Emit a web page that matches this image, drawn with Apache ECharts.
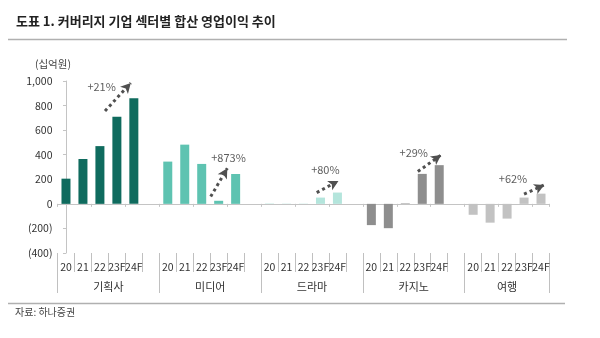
<!DOCTYPE html>
<html>
<head>
<meta charset="utf-8">
<script src="https://cdn.jsdelivr.net/npm/echarts@6/dist/echarts.min.js"></script>
<style>
html,body{margin:0;padding:0;background:#fff;}
#c{width:600px;height:338px;}
</style>
</head>
<body>
<div id="c"></div>
<script>
// ---- data ----
const groups = ['기획사', '미디어', '드라마', '카지노', '여행'];
const years = ['20', '21', '22', '23F', '24F'];
const kihoeksa = [205, 365, 470, 710, 860];
const media = [344, 482, 325, 25, 243];
const drama = [3, 2, 2, 51, 92];
const casino = [-173, -198, 4, 244, 315];
const travel = [-89, -153, -120, 51, 83];
const yTicks = [-400, -200, 0, 200, 400, 600, 800, 1000];
const growthLabels = ['+21%', '+873%', '+80%', '+29%', '+62%'];
// arrow start/end in [category slot, value] units, label anchor
const arrowFrom = [[2.3, 756], [8.53, 59], [14.78, 92], [20.74, 263], [27.0, 79]];
const arrowTo = [[3.82, 984], [9.51, 290], [16.06, 187], [22.11, 398], [28.19, 154]];
const labelAt = [[2.1, 954], [9.58, 376], [15.29, 276], [20.5, 412], [26.35, 201]];

const colors = ['#0f6b5e', '#5ec3b1', '#b4e5dc', '#8e8e8e', '#c2c2c2'];
const seriesVals = [kihoeksa, media, drama, casino, travel];

// ---- build category layout: 5 bars + 1 blank slot between groups ----
const yearCats = [];
const slotOfGroup = [];
groups.forEach((g, gi) => {
  slotOfGroup.push(yearCats.length);
  years.forEach(y => yearCats.push(y));
  if (gi < groups.length - 1) yearCats.push('');
});
const nSlots = yearCats.length; // 29
// group axis on half-slot boundaries
const nHalf = nSlots * 2 + 1;
const groupCats = new Array(nHalf).fill('');
const groupBounds = [];
groups.forEach((g, gi) => {
  const start = slotOfGroup[gi];
  const end = gi < groups.length - 1 ? slotOfGroup[gi + 1] : nSlots;
  groupBounds.push(start * 2);
  groupCats[start + end] = g;
});
groupBounds.push(nSlots * 2);

const series = groups.map((g, gi) => {
  const d = new Array(nSlots).fill(null);
  seriesVals[gi].forEach((v, k) => { d[slotOfGroup[gi] + k] = v; });
  return {
    name: g, type: 'bar', stack: 'all', data: d,
    xAxisIndex: 0, yAxisIndex: 0, barWidth: 9,
    itemStyle: { color: colors[gi] }, silent: true
  };
});

series.push({
  type: 'line', xAxisIndex: 3, yAxisIndex: 0, data: [], silent: true,
  markLine: {
    silent: true, symbol: ['none', 'arrow'], symbolSize: [8, 10],
    label: { show: false },
    lineStyle: { color: '#505050', width: 3, type: [3, 3.2], opacity: 1 },
    data: arrowFrom.map((p, i) => [{ coord: p }, { coord: arrowTo[i] }])
  }
});
series.push({
  type: 'scatter', xAxisIndex: 3, yAxisIndex: 0, symbolSize: 0, silent: true,
  data: labelAt.map((p, i) => ({ value: p, name: growthLabels[i] })),
  label: {
    show: true, position: 'inside', formatter: p => p.name,
    color: '#333', fontSize: 11, fontFamily: 'Noto Sans CJK KR'
  }
});

const FONT = 'Noto Sans CJK KR';
const fmt = v => {
  const s = Math.abs(v).toString().replace(/\B(?=(\d{3})+(?!\d))/g, ',');
  return v < 0 ? '(' + s + ')' : s;
};

const chart = echarts.init(document.getElementById('c'), null, { renderer: 'canvas' });
chart.setOption({
  animation: false,
  backgroundColor: '#fff',
  textStyle: { fontFamily: FONT },
  grid: { left: 57.5, right: 50.5, top: 81, bottom: 85, containLabel: false },
  graphic: [
    { type: 'text', left: 16, top: 15, style: { text: '도표 1. 커버리지 기업 섹터별 합산 영업이익 추이', font: 'bold 13px "Noto Sans CJK KR"', fill: '#222' } },
    { type: 'line', shape: { x1: 8, y1: 39.5, x2: 567, y2: 39.5 }, style: { stroke: '#b0b0b0', lineWidth: 1.5 } },
    { type: 'line', shape: { x1: 8, y1: 303.5, x2: 565, y2: 303.5 }, style: { stroke: '#b0b0b0', lineWidth: 1.5 } },
    { type: 'text', left: 15, top: 307, style: { text: '자료: 하나증권', font: '10px "Noto Sans CJK KR"', fill: '#444' } }
  ],
  xAxis: [
    {
      type: 'category', data: yearCats, boundaryGap: true, position: 'bottom',
      axisLine: { onZero: true, lineStyle: { color: '#c4c4c4', width: 1 } },
      axisTick: { show: true, length: 3, lineStyle: { color: '#c4c4c4' } },
      axisLabel: { show: false }
    },
    {
      type: 'category', data: yearCats, boundaryGap: true, position: 'bottom',
      axisLine: { show: false, onZero: false },
      axisTick: { show: true, length: 19, interval: 0, lineStyle: { color: '#c0c0c0' } },
      axisLabel: { interval: 0, margin: 9, fontSize: 10.5, color: '#333', fontFamily: FONT }
    },
    {
      type: 'category', data: groupCats, boundaryGap: false, position: 'bottom',
      axisLine: { show: false, onZero: false },
      axisTick: { show: true, length: 40, interval: (idx) => groupBounds.includes(idx), lineStyle: { color: '#c0c0c0' } },
      axisLabel: { interval: 0, margin: 28, fontSize: 11, color: '#333', fontFamily: FONT }
    },
    { type: 'value', min: -0.5, max: nSlots - 0.5, show: false }
  ],
  yAxis: [{
    type: 'value', min: yTicks[0], max: yTicks[yTicks.length - 1], interval: 200,
    name: '(십억원)', nameLocation: 'end', nameGap: 12,
    nameTextStyle: { color: '#444', fontSize: 10.5, align: 'right', padding: [0, -5, 0, 0], fontFamily: FONT },
    axisLine: { show: true, lineStyle: { color: '#c4c4c4' } },
    axisTick: { show: true, length: 3, lineStyle: { color: '#c4c4c4' } },
    splitLine: { show: false },
    axisLabel: { formatter: fmt, fontSize: 10.5, color: '#333', margin: 5, fontFamily: FONT }
  }],
  series: series
});
</script>
</body>
</html>
